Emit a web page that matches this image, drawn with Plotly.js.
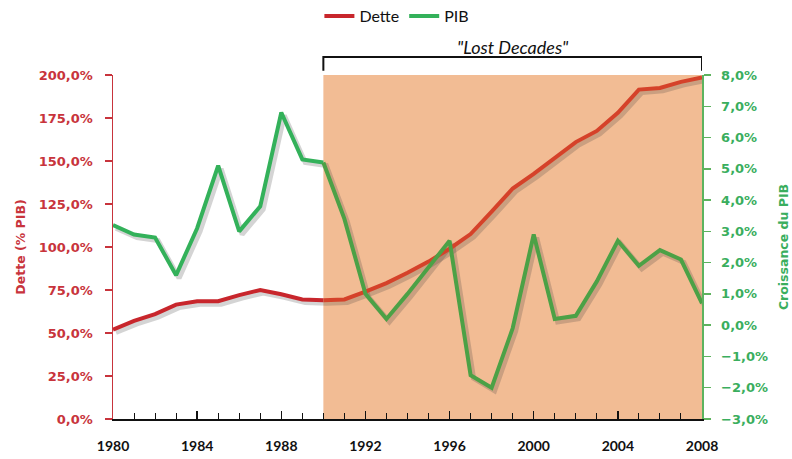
<!DOCTYPE html>
<html>
<head>
<meta charset="utf-8">
<script src="https://cdn.plot.ly/plotly-3.0.1.min.js"></script>
<style>html,body{margin:0;padding:0;background:#fff;}#chart{width:792px;height:459px;}</style>
</head>
<body>
<div id="chart"></div>
<script>
// ---- Data ----
const years = [1980,1981,1982,1983,1984,1985,1986,1987,1988,1989,1990,1991,1992,1993,1994,1995,1996,1997,1998,1999,2000,2001,2002,2003,2004,2005,2006,2007,2008];
const dette = [52,57,61,66.5,68.5,68.5,72,75,72.5,69.5,69,69.5,74,79,85,91.5,99,107.5,120.5,134,142.5,152,161,167.5,178,191.5,192.5,196,198.5];
const pib = [3.2,2.9,2.8,1.6,3.1,5.1,3.0,3.8,6.8,5.3,5.2,3.4,1.0,0.2,1.0,1.85,2.7,-1.6,-2.0,-0.1,2.9,0.2,0.3,1.4,2.7,1.9,2.4,2.1,0.7];
const seriesNames = ["Dette","PIB"];
const lostStart = 1990, lostEnd = 2008;
const lostLabel = '"Lost Decades"';
const leftTitle = "Dette (% PIB)";
const rightTitle = "Croissance du PIB";

const splitIdx = years.indexOf(lostStart);
const yPre = years.slice(0, splitIdx + 1), yPost = years.slice(splitIdx);

const RED = '#C8262C', RED2 = '#D5422A', GREEN = '#33B15A', GREEN2 = '#4CA146';
const AXRED = '#C8343C', AXGREEN = '#3AAE5E';
const shadow = 'rgba(60,60,60,0.22)';
// peach band: semi-transparent so the x-axis ticks stay visible; over white it gives #F2BC94
const BAND = 'rgba(236,159,102,0.7)';

const X0 = 1980, X1 = 2008, D0 = 0, D1 = 200, P0 = -3, P1 = 8;

const traces = [
  {x: [lostStart, lostEnd], y: [D1, D1], xaxis:'x', yaxis:'y', mode:'none', fill:'tozeroy', fillcolor:BAND, showlegend:false, hoverinfo:'skip'},
  {x: [], y: [], xaxis:'x2', yaxis:'y2', mode:'lines', showlegend:false, hoverinfo:'skip'},
  {x: [], y: [], xaxis:'x2', yaxis:'y3', mode:'lines', showlegend:false, hoverinfo:'skip'},
  {x: years, y: dette, xaxis:'x4', yaxis:'y4', mode:'lines', line:{color:shadow,width:5}, showlegend:false, hoverinfo:'skip'},
  {x: years, y: pib, xaxis:'x4', yaxis:'y5', mode:'lines', line:{color:shadow,width:5}, showlegend:false, hoverinfo:'skip'},
  {x: yPre, y: dette.slice(0, splitIdx + 1), xaxis:'x5', yaxis:'y6', mode:'lines', name:seriesNames[0], legendgroup:'d', line:{color:RED,width:4}},
  {x: yPost, y: dette.slice(splitIdx), xaxis:'x5', yaxis:'y6', mode:'lines', name:seriesNames[0], legendgroup:'d', showlegend:false, line:{color:RED2,width:4}},
  {x: yPre, y: pib.slice(0, splitIdx + 1), xaxis:'x5', yaxis:'y7', mode:'lines', name:seriesNames[1], legendgroup:'p', line:{color:GREEN,width:4}},
  {x: yPost, y: pib.slice(splitIdx), xaxis:'x5', yaxis:'y7', mode:'lines', name:seriesNames[1], legendgroup:'p', showlegend:false, line:{color:GREEN2,width:4}}
];

const hidden = {visible:true, showline:false, showticklabels:false, ticks:'', showgrid:false, zeroline:false, fixedrange:true};
const tf = {family:'DejaVu Sans, Verdana, sans-serif', size:13, weight:'bold'};
const dx = 0.14, dyD = 1.74, dyP = 0.096;

const layout = {
  width:792, height:459,
  margin:{l:113, r:90, t:75, b:40},
  paper_bgcolor:'#fff', plot_bgcolor:'rgba(0,0,0,0)',
  separators:', ',
  showlegend:true,
  legend:{orientation:'h', x:0.482, xanchor:'center', yref:'container', y:1-16/459, yanchor:'middle',
    font:{family:'Lato, sans-serif', size:16, color:'#111'}, itemwidth:30, tracegroupgap:0, bgcolor:'rgba(0,0,0,0)'},
  xaxis: Object.assign({}, hidden, {anchor:'y', range:[X0,X1]}),
  yaxis: Object.assign({}, hidden, {anchor:'x', range:[D0, D1]}),
  xaxis2: {anchor:'y2', side:'bottom', range:[X0,X1], tick0:1980, dtick:4,
    showline:true, linecolor:'#111', linewidth:1.5, showgrid:false, zeroline:false,
    ticks:'inside', ticklen:8, tickwidth:1.5, tickcolor:'#111',
    minor:{dtick:1, ticks:'inside', ticklen:6, tickwidth:1, tickcolor:'#111'},
    ticklabelstandoff:14,
    tickfont:{family:'Lato, sans-serif', size:14, weight:'bold', color:'#111'}},
  yaxis2: {anchor:'x2', side:'left', range:[D0,D1], dtick:25, tick0:0,
    tickformat:'.1f', ticksuffix:'%',
    showline:true, linecolor:AXRED, linewidth:1.5, showgrid:false, zeroline:false,
    ticks:'outside', ticklen:7, tickwidth:1.5, tickcolor:AXRED,
    ticklabelstandoff:9,
    tickfont:Object.assign({}, tf, {color:AXRED}),
    title:{text:leftTitle, standoff:10, font:{family:'DejaVu Sans, sans-serif', size:12.5, weight:'bold', color:AXRED}}},
  yaxis3: {overlaying:'y2', anchor:'x2', side:'right', range:[P0,P1], dtick:1, tick0:0,
    tickformat:'.1f', ticksuffix:'%',
    showline:true, linecolor:'#5DB35F', linewidth:1.5, showgrid:false, zeroline:false,
    ticks:'outside', ticklen:7, tickwidth:1.5, tickcolor:'#5DB35F',
    ticklabelstandoff:8,
    tickfont:Object.assign({}, tf, {color:AXGREEN}),
    title:{text:rightTitle, standoff:12, font:{family:'DejaVu Sans, sans-serif', size:12.5, weight:'bold', color:AXGREEN}}},
  xaxis4: Object.assign({}, hidden, {overlaying:'x2', anchor:'y4', range:[X0-dx, X1-dx]}),
  yaxis4: Object.assign({}, hidden, {overlaying:'y2', anchor:'x4', range:[D0+dyD, D1+dyD]}),
  yaxis5: Object.assign({}, hidden, {overlaying:'y2', anchor:'x4', range:[P0+dyP, P1+dyP]}),
  xaxis5: Object.assign({}, hidden, {overlaying:'x2', anchor:'y6', range:[X0, X1]}),
  yaxis6: Object.assign({}, hidden, {overlaying:'y2', anchor:'x5', range:[D0, D1]}),
  yaxis7: Object.assign({}, hidden, {overlaying:'y2', anchor:'x5', range:[P0, P1]}),
  shapes:[
    {type:'path', layer:'above', xref:'x2', yref:'paper',
      path:`M ${lostStart},1.012 L ${lostStart},1.052 L ${lostEnd},1.052 L ${lostEnd},1.012`,
      line:{color:'#111', width:2}}
  ],
  annotations:[
    {text:lostLabel, xref:'x2', yref:'paper', x:(lostStart+lostEnd)/2, y:(419-47)/344, yanchor:'middle', xanchor:'center',
      showarrow:false, font:{family:'Lato, sans-serif', size:18, style:'italic', color:'#111'}}
  ]
};

Plotly.newPlot('chart', traces, layout, {staticPlot:true, displayModeBar:false});
</script>
</body>
</html>
